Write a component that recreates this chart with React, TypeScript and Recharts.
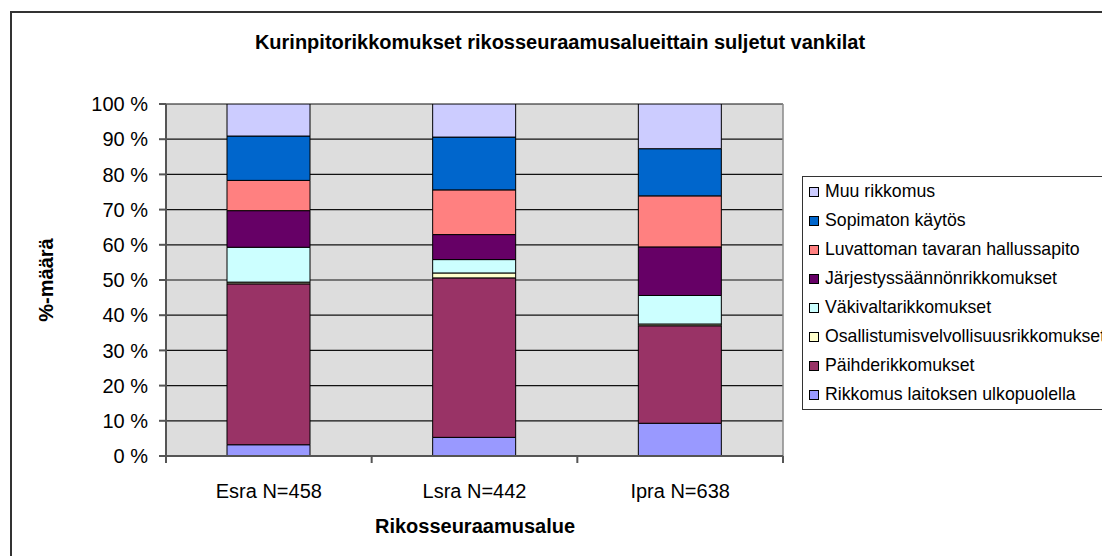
import React from 'react';
import { BarChart, Bar, XAxis, YAxis, CartesianGrid, Legend } from 'recharts';

const categories = ['Esra N=458', 'Lsra N=442', 'Ipra N=638'];

const rikkomusUlkopuolella = [3.2, 5.3, 9.3];
const paihderikkomukset = [45.7, 45.3, 27.7];
const osallistumis = [0.5, 1.4, 0.5];
const vakivalta = [9.9, 3.8, 8.1];
const jarjestys = [10.4, 7.1, 13.8];
const luvaton = [8.6, 12.7, 14.5];
const sopimaton = [12.6, 15.0, 13.4];
const muu = [9.1, 9.4, 12.7];

const yTicks = [0, 10, 20, 30, 40, 50, 60, 70, 80, 90, 100];

const seriesKeys = ['s0', 's1', 's2', 's3', 's4', 's5', 's6', 's7'];
const seriesNames = [
  'Rikkomus laitoksen ulkopuolella',
  'Päihderikkomukset',
  'Osallistumisvelvollisuusrikkomukset',
  'Väkivaltarikkomukset',
  'Järjestyssäännönrikkomukset',
  'Luvattoman tavaran hallussapito',
  'Sopimaton käytös',
  'Muu rikkomus',
];
const seriesColors = ['#9999FF', '#993366', '#FFFFCC', '#CCFFFF', '#660066', '#FF8080', '#0066CC', '#CCCCFF'];
const seriesValues = [
  rikkomusUlkopuolella,
  paihderikkomukset,
  osallistumis,
  vakivalta,
  jarjestys,
  luvaton,
  sopimaton,
  muu,
];

const data = categories.map((name, i) => {
  const row: Record<string, any> = { name };
  seriesKeys.forEach((k, j) => {
    row[k] = seriesValues[j][i];
  });
  return row;
});

const FONT = '"Liberation Sans", Arial, Helvetica, sans-serif';

const XTick = (props: any) => {
  const { x, y, payload, index } = props;
  const half = payload && typeof payload.offset === 'number' ? payload.offset : 0;
  return (
    <g>
      <line x1={x + half} x2={x + half} y1={y} y2={y + 7} stroke="#555" strokeWidth={2} />
      {index === 0 && (
        <line x1={x - half} x2={x - half} y1={y} y2={y + 7} stroke="#555" strokeWidth={2} />
      )}
      <text x={x} y={y + 35} dy="0.35em" textAnchor="middle" fontSize={20} fill="#000" fontFamily={FONT}>
        {payload.value}
      </text>
    </g>
  );
};

const renderLegend = () => (
  <div
    style={{
      border: '1px solid #333',
      background: '#fff',
      width: 340,
      boxSizing: 'border-box',
      fontFamily: FONT,
      color: '#000',
    }}
  >
    {seriesNames
      .map((n, i) => i)
      .reverse()
      .map((i) => (
        <div key={seriesKeys[i]} style={{ height: 29, display: 'flex', alignItems: 'center', fontSize: 17.7 }}>
          <span
            style={{
              display: 'inline-block',
              width: 10,
              height: 10,
              border: '1px solid #000',
              boxSizing: 'border-box',
              background: seriesColors[i],
              marginLeft: 6,
              marginRight: 6,
              flex: '0 0 auto',
            }}
          />
          <span style={{ whiteSpace: 'nowrap' }}>{seriesNames[i]}</span>
        </div>
      ))}
  </div>
);

export default function App() {
  return (
    <div style={{ position: 'relative', width: 1102, height: 548, overflow: 'hidden', fontFamily: FONT, background: '#fff' }}>
      <div
        style={{
          position: 'absolute',
          left: 2,
          top: 3,
          width: 1300,
          height: 800,
          border: '2px solid #333',
          boxSizing: 'border-box',
        }}
      />
      <BarChart
        width={1102}
        height={548}
        data={data}
        margin={{ top: 96, right: 327, bottom: 60, left: 58 }}
        barSize={83}
      >
        <CartesianGrid vertical={false} stroke="#111" strokeWidth={1.2} fill="#DDDDDD" fillOpacity={1} />
        <CartesianGrid
          horizontal={false}
          stroke="#888"
          strokeWidth={1.5}
          verticalCoordinatesGenerator={({ offset }: any) => [offset.left + offset.width]}
        />
        <XAxis
          dataKey="name"
          height={40}
          tickLine={false}
          tickSize={0}
          tickMargin={0}
          axisLine={{ stroke: '#555', strokeWidth: 2 }}
          tick={<XTick />}
          interval={0}
        />
        <YAxis
          width={100}
          domain={[0, 100]}
          ticks={yTicks}
          interval={0}
          tickFormatter={(v: number) => `${v} %`}
          tickSize={7}
          tickMargin={11}
          tickLine={{ stroke: '#555', strokeWidth: 2 }}
          axisLine={{ stroke: '#555', strokeWidth: 2 }}
          tick={{ fill: '#000', fontSize: 20, fontFamily: FONT }}
          allowDataOverflow
        />
        <Legend
          layout="vertical"
          align="center"
          verticalAlign="middle"
          content={renderLegend}
          wrapperStyle={{ position: 'absolute', left: 794, top: 168, width: 340 }}
        />
        {seriesKeys.map((k, i) => (
          <Bar
            key={k}
            dataKey={k}
            name={seriesNames[i]}
            stackId="a"
            fill={seriesColors[i]}
            stroke="#000"
            strokeWidth={1}
            isAnimationActive={false}
          />
        ))}
      </BarChart>
      <div
        style={{
          position: 'absolute',
          left: 552,
          top: 34,
          transform: 'translate(-50%, -50%)',
          whiteSpace: 'nowrap',
          fontWeight: 'bold',
          fontSize: 20,
          color: '#000',
        }}
      >
        Kurinpitorikkomukset rikosseuraamusalueittain suljetut vankilat
      </div>
      <div
        style={{
          position: 'absolute',
          left: 38,
          top: 272,
          transform: 'translate(-50%, -50%) rotate(-90deg)',
          whiteSpace: 'nowrap',
          fontWeight: 'bold',
          fontSize: 20,
          color: '#000',
        }}
      >
        %-määrä
      </div>
      <div
        style={{
          position: 'absolute',
          left: 467,
          top: 518,
          transform: 'translate(-50%, -50%)',
          whiteSpace: 'nowrap',
          fontWeight: 'bold',
          fontSize: 20,
          color: '#000',
        }}
      >
        Rikosseuraamusalue
      </div>
    </div>
  );
}
